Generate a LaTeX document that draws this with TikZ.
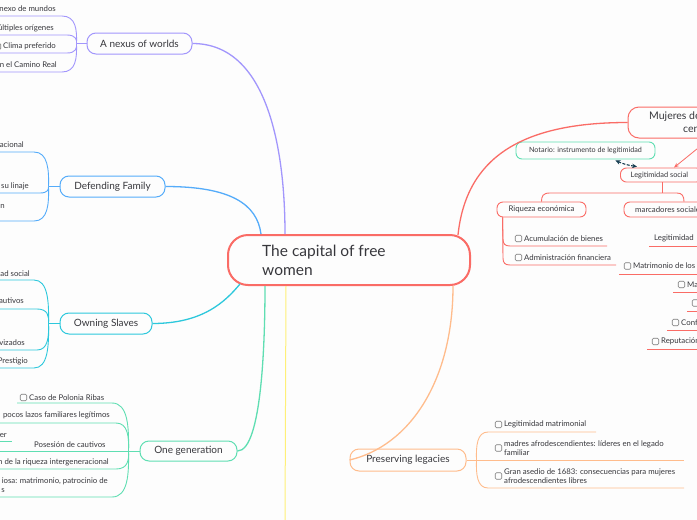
\documentclass[tikz,border=0pt]{standalone}
\usepackage{fontspec}
\setmainfont{Lato}
\usetikzlibrary{calc,arrows.meta}
\definecolor{txt}{RGB}{55,55,60}
\definecolor{cpurp}{RGB}{162,150,252}
\definecolor{cblue}{RGB}{85,172,250}
\definecolor{cteal}{RGB}{45,200,220}
\definecolor{cgreen}{RGB}{95,222,178}
\definecolor{cred}{RGB}{250,108,102}
\definecolor{corange}{RGB}{255,188,140}
\definecolor{cyellow}{RGB}{255,240,120}
\definecolor{cdark}{RGB}{20,60,80}
\definecolor{cgray}{RGB}{125,125,125}
\definecolor{bg}{RGB}{253,253,253}
\tikzset{
  topic/.style={draw, line width=1pt, rounded corners=9pt, inner sep=0pt, text=txt, font=\fontsize{10}{12}\selectfont},
  sub/.style={draw, line width=0.9pt, rounded corners=6pt, inner sep=0pt, text=txt, font=\fontsize{7.4}{8.5}\selectfont},
  itm/.style={inner sep=0pt, text=txt, font=\fontsize{7.8}{9.6}\selectfont, align=left},
  chk/.style={draw=cgray, line width=0.6pt, rounded corners=1.2pt, minimum size=6.5pt, inner sep=0pt},
  conn/.style={line width=1.3pt},
  uline/.style={line width=0.9pt},
}
\begin{document}
\begin{tikzpicture}[x=1pt,y=-1pt]
\useasboundingbox (0,0) rectangle (697,520);
\fill[bg] (0,0) rectangle (697,520);
\clip (0,0) rectangle (697,520);

% ---------- central node ----------
\node[draw=cred, line width=2pt, rounded corners=20pt, minimum width=242pt, minimum height=50pt, inner sep=0pt] (cen) at (349,260) {};
\node[inner sep=0pt, text=txt, font=\fontsize{15.5}{19}\selectfont, align=left, anchor=west] (centxt) at (262,260.5) {The capital of free\\women};

% ---------- topic nodes ----------
\node[topic, draw=cpurp, minimum width=105pt, minimum height=21pt] (nexus) at (139.5,43.5) {A nexus of worlds};
\node[topic, draw=cblue, minimum width=105pt, minimum height=21pt] (def) at (112.5,186.5) {Defending Family};
\node[topic, draw=cteal, minimum width=92pt, minimum height=21pt] (own) at (106,323.5) {Owning Slaves};
\node[topic, draw=cgreen, minimum width=97pt, minimum height=20pt] (gen) at (188.5,451) {One generation};
\node[topic, draw=corange, minimum width=116pt, minimum height=22pt] (pres) at (408,460) {Preserving legacies};

% ---------- right side nodes ----------
\node[draw=cred, line width=1pt, rounded corners=11pt, minimum width=140pt, minimum height=31pt, inner sep=0pt] (muj) at (698,122.5) {};
\node[inner sep=0pt, text=txt, font=\fontsize{10.5}{12}\selectfont, anchor=west] (mujt1) at (649,117) {Mujeres de};
\node[inner sep=0pt, text=txt, font=\fontsize{10.5}{12}\selectfont, anchor=west] (mujt2) at (683,130) {cen};
\node[sub, draw=cgreen, minimum width=139pt, minimum height=17pt, font=\fontsize{7.2}{8}\selectfont] (nota) at (585.5,150.5) {Notario: instrumento de legitimidad};
\node[sub, draw=cred, minimum width=82pt, minimum height=14pt, anchor=west] (legs) at (620,175) {\hspace*{-4pt}Legitimidad social};
\node[sub, draw=cred, minimum width=89pt, minimum height=15pt, font=\fontsize{7.8}{8.5}\selectfont] (riq) at (541.5,209.5) {Riqueza económica};
\node[sub, draw=cred, minimum width=120pt, minimum height=15pt] (marc) at (684,209.5) {};
\node[itm, anchor=west] (marct) at (635,209.5) {marcadores sociales};

% ---------- connectors from centre ----------
\coordinate (cN1) at ($(cen.north west)+(58,0)$);
\coordinate (cN2) at ($(cen.north west)+(34,0)$);
\coordinate (cS1) at ($(cen.south west)+(13,-2)$);
\coordinate (cS2) at ($(cen.south west)+(38,0)$);
\coordinate (cS3) at ($(cen.south west)+(59,0)$);
\coordinate (cS4) at ($(cen.south east)+(-18,0)$);
\coordinate (cNE) at ($(cen.north east)+(-13,1)$);
\coordinate (yend) at (285,525);

\draw[conn, cpurp] (nexus.east) .. controls +(75,0) and +(0,-85) .. (cN1);
\draw[conn, cblue] (def.east) .. controls +(65,0) and +(-4,-30) .. (cN2);
\draw[conn, cteal] (own.east) .. controls +(50,0) and +(-15,18) .. (cS1);
\draw[conn, cgreen] (gen.east) .. controls +(25,0) and +(0,50) .. (cS2);
\draw[line width=1pt, cyellow] (cS3) -- (yend);
\draw[conn, corange] (cS4) .. controls +(0,95) and +(60,-14) .. (pres.west);
\draw[conn, cred] (cNE) .. controls +(8,-76) and +(-108,0) .. (muj.west);

% ---------- nexus subtree ----------
\coordinate (bn) at ($(nexus.west)+(-10,0)$);
\draw[uline, cpurp] (nexus.west) -- (bn);
\draw[uline, cpurp] (0,16) -- (62,16) .. controls (76,16) and (77,30) .. (bn);
\draw[uline, cpurp] (0,35) -- (67,35) .. controls (76,35) and (77,40) .. (bn);
\draw[uline, cpurp] (0,53) -- (67,53) .. controls (76,53) and (77,48) .. (bn);
\draw[uline, cpurp] (0,72) -- (62,72) .. controls (76,72) and (77,58) .. (bn);
\node[itm, anchor=east] (n1) at (56,8.5) {Un nexo de mundos};
\node[itm, anchor=east] (n2) at (54,28) {Múltiples orígenes};
\node[itm, anchor=east] (n3) at (56,46.5) {Clima preferido};
\node[chk] (n3c) at (-2.5,46.5) {};
\node[itm, anchor=east] (n4) at (57,65) {en el Camino Real};

% ---------- defending subtree ----------
\coordinate (bd) at ($(def.west)+(-11,0)$);
\draw[uline, cblue] (def.west) -- (bd);
\draw[uline, cblue] (0,152) -- (34,152) .. controls (48,152) and (49,170) .. (bd);
\draw[uline, cblue] (0,193) -- (40,193) .. controls (47,193) and (49,190) .. (bd);
\draw[uline, cblue] (0,221) -- (34,221) .. controls (48,221) and (49,204) .. (bd);
\node[itm, anchor=east] (d1) at (24,144.5) {acional};
\node[itm, anchor=east] (d2) at (29,186.5) {su linaje};
\node[itm, anchor=east] (d3) at (5,206) {n};

% ---------- owning subtree ----------
\coordinate (bo) at ($(own.west)+(-11,0)$);
\draw[uline, cteal] (own.west) -- (bo);
\draw[uline, cteal] (0,280) -- (34,280) .. controls (48,280) and (49,302) .. (bo);
\draw[uline, cteal] (0,309) -- (37,309) .. controls (48,309) and (49,316) .. (bo);
\draw[uline, cteal] (0,350) -- (37,350) .. controls (48,350) and (49,337) .. (bo);
\draw[uline, cteal] (0,368) -- (34,368) .. controls (48,368) and (49,346) .. (bo);
\node[itm, anchor=east] (o1) at (30,273.5) {ad social};
\node[itm, anchor=east] (o2) at (24,300.5) {cautivos};
\node[itm, anchor=east] (o3) at (25,342.5) {avizados};
\node[itm, anchor=east] (o4) at (28,361.5) {Prestigio};

% ---------- one generation subtree ----------
\coordinate (bg) at ($(gen.west)+(-11,0)$);
\draw[uline, cgreen] (gen.west) -- (bg);
\draw[uline, cgreen] (17,403) -- (112,403) .. controls (128,403) and (129,427) .. (bg);
\draw[uline, cgreen] (0,423) -- (116,423) .. controls (128,423) and (129,437) .. (bg);
\draw[uline, cgreen] (0,451) -- (bg);
\draw[uline, cgreen] (0,469) -- (116,469) .. controls (128,469) and (129,460) .. (bg);
\draw[uline, cgreen] (0,497) -- (112,497) .. controls (128,497) and (129,474) .. (bg);
\draw[uline, cgreen] (0,441.5) -- (12,441.5);
\node[chk] (g1c) at (23.5,397.5) {};
\node[itm, anchor=west] (g1) at (29,397.5) {Caso de Polonia Ribas};
\node[itm, anchor=east] (g2) at (110,415.5) {pocos lazos familiares legítimos};
\node[itm, anchor=east] (g3) at (7,434.5) {ier};
\node[itm, anchor=west] (g4) at (34,444.5) {Posesión de cautivos};
\node[itm, anchor=east] (g5) at (109,462.5) {n de la riqueza intergeneracional};
\node[itm, anchor=east] (g6) at (108,481.5) {iosa: matrimonio, patrocinio de};
\node[itm, anchor=east] (g7) at (5,491) {s};

% ---------- preserving subtree ----------
\coordinate (bp) at ($(pres.east)+(10,0)$);
\draw[uline, corange] (pres.east) -- (bp);
\draw[uline, corange] (bp) .. controls (476,446) and (477,432) .. (488,432) -- (596,432);
\draw[uline, corange] (bp) -- (684,460);
\draw[uline, corange] (bp) .. controls (476,474) and (477,488) .. (488,488) -- (684,488);
\node[chk] (p1c) at (498.5,424.5) {};
\node[itm, anchor=west] (p1) at (504,424.5) {Legitimidad matrimonial};
\node[chk] (p2c) at (498.5,448) {};
\node[itm, anchor=west] (p2) at (504,448) {madres afrodescendientes: líderes en el legado\\familiar};
\node[chk] (p3c) at (498.5,476) {};
\node[itm, anchor=west] (p3) at (504,476) {Gran asedio de 1683: consecuencias para mujeres\\afrodescendientes libres};

% ---------- right subtree ----------
\coordinate (mujout) at (708,140);
\coordinate (legtip) at ($(legs.north west)+(54,0)$);
\draw[cred, line width=0.8pt, -{Stealth[length=5pt,width=4pt]}] (mujout) -- (legtip);
\draw[cdark, line width=1.1pt, dashed, dash pattern=on 3pt off 1.5pt, {Stealth[length=5pt,width=4.5pt]}-{Stealth[length=5pt,width=4.5pt]}] ($(nota.south east)+(-40,1)$) to[bend right=8] ($(legs.north west)+(17,-1)$);

\coordinate (lsb) at ($(legs.south west)+(42,0)$);
\draw[uline, cred] (lsb) -- (662,193);
\draw[uline, cred] (riq.north) .. controls (541.5,196) and (543,193) .. (550,193) -- (677,193) .. controls (682,193) and (684,196) .. (marc.north);

\coordinate (rb) at ($(riq.south west)+(6,0)$);
\draw[uline, cred] (rb) -- (503,239) .. controls (503,244) and (505,246) .. (510,246) -- (607,246);
\draw[uline, cred] (rb) -- (503,258) .. controls (503,263) and (505,265) .. (510,265) -- (616,265);
\node[chk] (r1c) at (518.5,238.5) {};
\node[itm, anchor=west] (r1) at (524,238.5) {Acumulación de bienes};
\node[chk] (r2c) at (518.5,257.5) {};
\node[itm, anchor=west] (r2) at (524,257.5) {Administración financiera};

\draw[uline, cred] (649,246) -- (700,246);
\draw[uline, cred] (619,274) -- (700,274);
\draw[uline, cred] (673,292) -- (700,292);
\draw[uline, cred] (687,311) -- (700,311);
\draw[uline, cred] (667,330) -- (700,330);
\draw[uline, cred] (647,349) -- (700,349);
\node[itm, anchor=west] (m1) at (654,238.5) {Legitimidad};
\node[chk] (m2c) at (627.5,266) {};
\node[itm, anchor=west] (m2) at (633,266) {Matrimonio de los p};
\node[chk] (m3c) at (681.5,284.5) {};
\node[itm, anchor=west] (m3) at (687,284.5) {Ma};
\node[chk] (m4c) at (695.5,303) {};
\node[chk] (m5c) at (675.5,322.5) {};
\node[itm, anchor=west] (m5) at (681,322.5) {Conf};
\node[chk] (m6c) at (655.5,341.5) {};
\node[itm, anchor=west] (m6) at (661,341.5) {Reputación};
\end{tikzpicture}
\end{document}
